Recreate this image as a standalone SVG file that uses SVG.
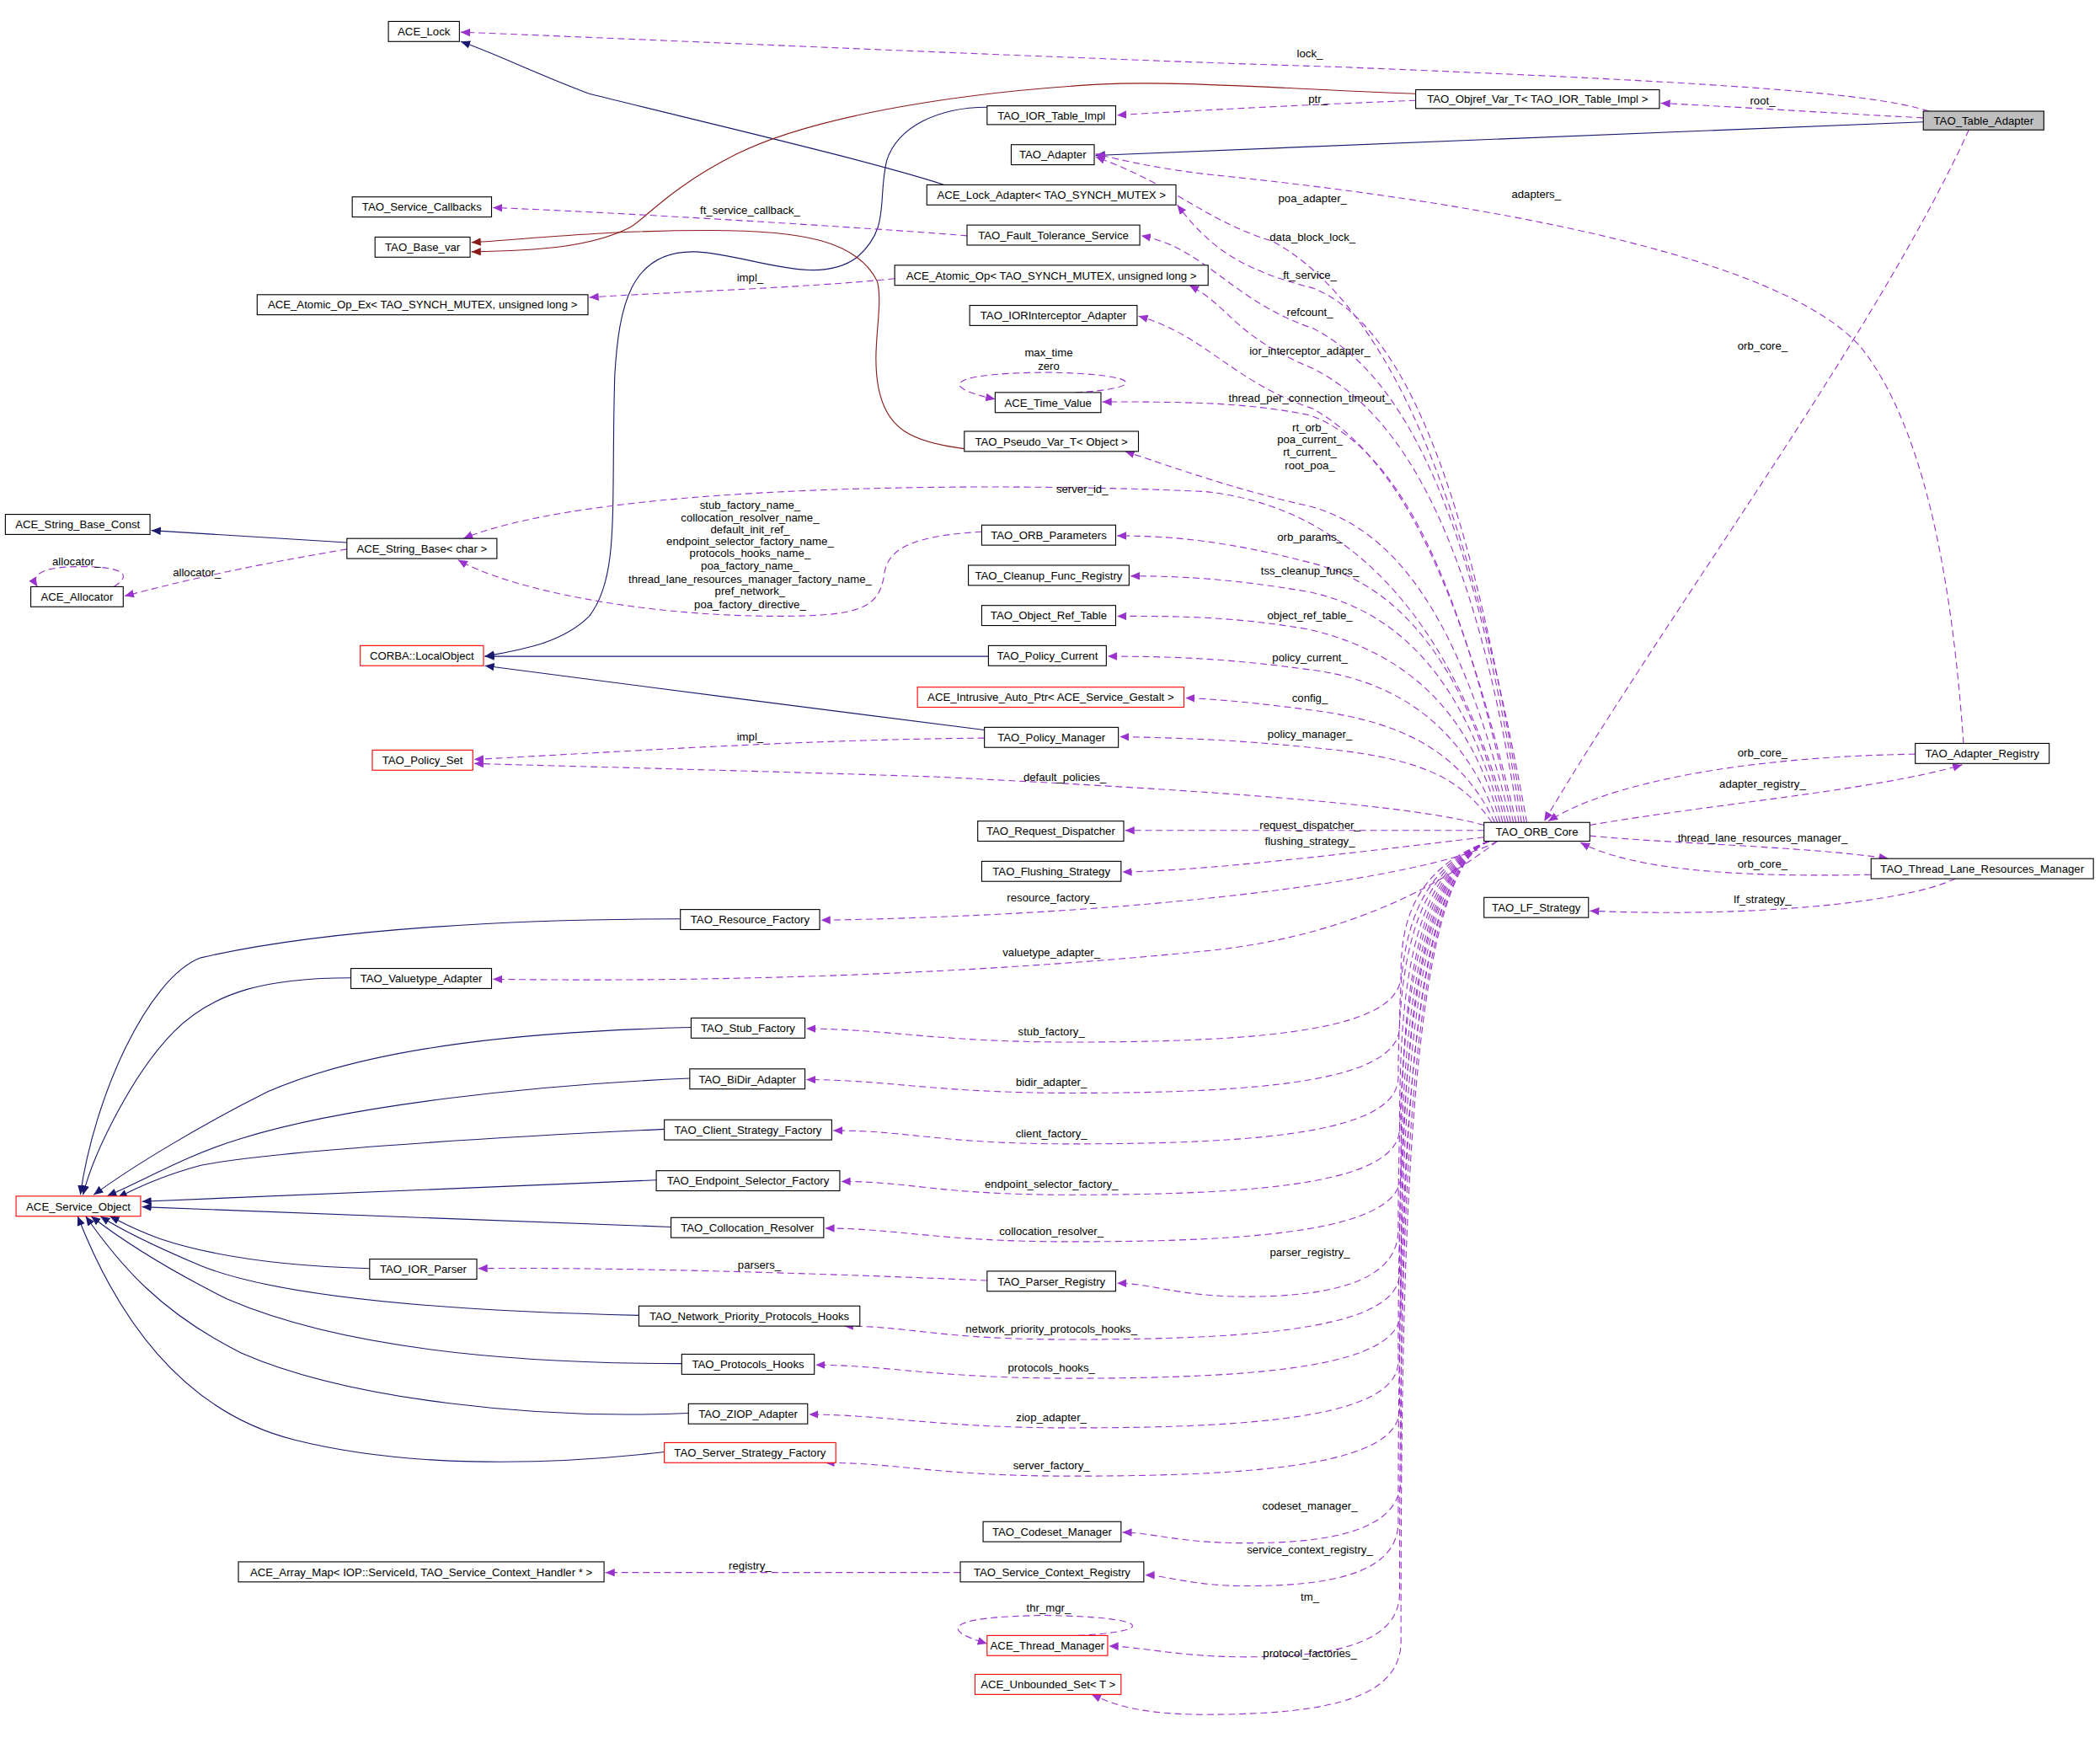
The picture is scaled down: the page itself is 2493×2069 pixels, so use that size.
<svg xmlns="http://www.w3.org/2000/svg" width="2493" height="2069" viewBox="0 0 2493 2069">
<style>
.n rect{fill:#fff;stroke:#000;stroke-width:0.7}
.n.r rect{stroke:#f00}
.n.g rect{fill:#bfbfbf}
text{font-family:"Liberation Sans",Arial,sans-serif;font-size:8.3px;fill:#000}
.n text{text-anchor:middle}
.l{text-anchor:middle}
.u{fill:none;stroke:#9a32cd;stroke-width:0.7;stroke-dasharray:5,3;marker-end:url(#mp)}
.b{fill:none;stroke:#191970;stroke-width:0.7;marker-end:url(#mb)}
.t{fill:none;stroke:#8b1a1a;stroke-width:0.7;marker-end:url(#mr)}
</style>
<defs>
<marker id="mp" markerUnits="userSpaceOnUse" markerWidth="8" markerHeight="8" refX="7" refY="3" orient="auto"><path d="M0,0L7,3L0,6z" fill="#9a32cd"/></marker>
<marker id="mb" markerUnits="userSpaceOnUse" markerWidth="8" markerHeight="8" refX="7" refY="3" orient="auto"><path d="M0,0L7,3L0,6z" fill="#191970"/></marker>
<marker id="mr" markerUnits="userSpaceOnUse" markerWidth="8" markerHeight="8" refX="7" refY="3" orient="auto"><path d="M0,0L7,3L0,6z" fill="#8b1a1a"/></marker>
</defs>
<rect width="2493" height="2069" fill="#fff"/>
<g transform="scale(1.59)">
<g id="edges">
<path class="b" d="M705,138C650,120 520,90 440,70C400,55 370,40 344,31"/>
<path class="b" d="M1436,91C1200,100 1000,108 818,116"/>
<path class="b" d="M737,80C700,80 670,95 662,120C655,150 665,170 640,192C610,215 560,190 520,188C470,186 462,230 459,280C456,380 463,430 440,460C420,480 390,485 362,490"/>
<path class="b" d="M738,490L362,490"/>
<path class="b" d="M735,545C650,535 450,508 362,497"/>
<path class="b" d="M259,405L113,396"/>
<path class="b" d="M508,686C400,686 250,692 150,715C110,730 70,820 60,892"/>
<path class="b" d="M262,730C200,730 160,740 130,770C100,800 70,860 62,892"/>
<path class="b" d="M516,767C400,770 280,780 200,815C150,840 100,870 70,892"/>
<path class="b" d="M515,805C400,810 260,825 180,850C140,862 110,880 80,893"/>
<path class="b" d="M496,843C350,850 200,860 150,870C120,878 100,888 88,894"/>
<path class="b" d="M490,881L106,897"/>
<path class="b" d="M501,916C400,912 200,905 106,901"/>
<path class="b" d="M276,947C200,945 150,935 120,925C100,918 90,912 82,908"/>
<path class="b" d="M477,982C300,978 200,965 150,945C110,928 90,918 75,908"/>
<path class="b" d="M509,1018C350,1018 240,1000 170,970C120,945 90,925 68,908"/>
<path class="b" d="M514,1055C400,1060 260,1045 180,1010C120,980 90,945 64,908"/>
<path class="b" d="M496,1084C400,1095 300,1095 220,1075C140,1055 90,990 58,908"/>
<path class="t" d="M1057,70C950,66 880,60 820,63C700,70 600,90 550,115C500,140 480,165 470,170C440,185 400,187 352,188"/>
<path class="t" d="M720,335C680,330 662,320 656,290C650,260 660,230 655,210C640,180 600,172 530,172C450,172 400,178 352,181"/>
<path class="u" d="M1440,83C1400,70 1300,62 1000,50C800,44 500,30 344,24"/>
<path class="u" d="M1436,88C1360,84 1300,80 1240,77"/>
<path class="u" d="M1057,75C980,78 900,82 834,86"/>
<path class="u" d="M1470,97C1400,250 1250,450 1153,613"/>
<path class="u" d="M1466,555C1460,470 1445,330 1390,260C1330,190 1100,150 900,130C860,125 840,120 818,115"/>
<path class="u" d="M1140,614C1110,450 1060,240 950,180C900,165 880,140 818,117"/>
<path class="u" d="M1138,614C1110,450 1070,250 980,215C920,200 900,180 879,153"/>
<path class="u" d="M1136,614C1110,450 1070,290 980,245C920,225 900,185 852,176"/>
<path class="u" d="M1134,614C1110,460 1070,320 980,275C920,250 920,230 888,213"/>
<path class="u" d="M1132,614C1100,480 1060,350 980,305C920,285 900,250 850,236"/>
<path class="u" d="M1130,614C1100,480 1060,340 978,310C930,300 880,300 823,300"/>
<path class="u" d="M1128,614C1100,500 1060,400 978,378C920,365 880,350 840,337"/>
<path class="u" d="M1126,614C1090,480 1020,380 900,367C750,360 450,360 346,402"/>
<path class="u" d="M1124,614C1100,520 1060,440 978,420C920,405 880,400 834,400"/>
<path class="u" d="M1122,614C1100,530 1060,460 978,442C920,432 880,430 844,430"/>
<path class="u" d="M1120,614C1100,540 1060,490 978,470C920,460 880,460 834,460"/>
<path class="u" d="M1118,614C1100,560 1060,510 978,500C920,492 880,490 827,490"/>
<path class="u" d="M1116,614C1095,570 1060,540 978,530C940,525 910,522 885,521"/>
<path class="u" d="M1114,614C1090,580 1060,565 978,558C920,552 880,551 836,550"/>
<path class="u" d="M1108,616C1050,600 900,590 700,580C550,575 420,572 354,570"/>
<path class="u" d="M1108,620L840,620"/>
<path class="u" d="M1108,625C1000,638 900,650 838,651"/>
<path class="u" d="M1118,628C1080,650 900,682 613,687"/>
<path class="u" d="M1118,628C1070,665 1000,700 900,710C700,730 500,733 368,731"/>
<path class="u" d="M1112,628C1050,650 1046,698 1046,728C1046,768 950,778 800,778C700,778 660,768 602,768"/>
<path class="u" d="M1112,628C1050,650 1045,717 1045,766C1045,806 950,816 800,816C700,816 660,806 602,806"/>
<path class="u" d="M1112,628C1050,650 1044,736 1044,804C1044,844 950,854 800,854C700,854 680,844 622,844"/>
<path class="u" d="M1112,628C1050,650 1045,755 1045,842C1045,882 950,892 800,892C700,892 680,882 628,882"/>
<path class="u" d="M1112,628C1050,650 1046,772 1046,877C1046,917 950,927 800,927C700,927 670,917 616,917"/>
<path class="u" d="M1112,628C1050,650 1044,793 1044,918C1044,958 990,968 930,968C880,968 860,958 834,958"/>
<path class="u" d="M1112,628C1050,650 1045,809 1045,950C1045,990 950,1000 800,1000C700,1000 680,990 630,990"/>
<path class="u" d="M737,956C600,950 450,946 357,947"/>
<path class="u" d="M1112,628C1050,650 1046,823 1046,979C1046,1019 950,1029 800,1029C700,1029 660,1019 609,1019"/>
<path class="u" d="M1112,628C1050,650 1044,842 1044,1016C1044,1056 950,1066 800,1066C700,1066 660,1056 604,1056"/>
<path class="u" d="M1112,628C1050,650 1045,860 1045,1052C1045,1092 950,1102 800,1102C700,1102 670,1092 616,1092"/>
<path class="u" d="M1112,628C1050,650 1046,886 1046,1104C1046,1144 990,1152 930,1152C880,1152 860,1144 838,1144"/>
<path class="u" d="M1112,628C1050,650 1044,902 1044,1136C1044,1176 990,1184 930,1184C890,1184 870,1176 855,1176"/>
<path class="u" d="M717,1174L452,1174"/>
<path class="u" d="M1112,628C1050,650 1045,928 1045,1189C1045,1229 990,1237 930,1237C880,1237 850,1229 828,1229"/>
<path class="u" d="M1112,628C1050,650 1046,946 1046,1225C1046,1265 1000,1280 900,1280C850,1280 830,1272 815,1265"/>
<path class="u" d="M805,1221C865,1218 860,1207 780,1206C700,1207 705,1218 737,1227"/>
<path class="u" d="M803,293C858,290 855,279 780,278C700,279 705,290 743,298"/>
<path class="u" d="M85,438C98,430 95,423 60,423C25,423 24,432 28,438"/>
<path class="u" d="M259,410C200,420 150,430 93,445"/>
<path class="u" d="M722,176C650,170 450,158 368,155"/>
<path class="u" d="M668,208C600,215 500,218 440,222"/>
<path class="u" d="M733,397C680,400 662,410 660,430C656,455 640,460 580,460C480,460 380,440 342,418"/>
<path class="u" d="M735,551C600,552 450,562 354,567"/>
<path class="u" d="M1187,616C1280,600 1400,590 1465,571"/>
<path class="u" d="M1430,563C1300,565 1200,585 1156,613"/>
<path class="u" d="M1187,624C1250,630 1350,632 1410,641"/>
<path class="u" d="M1397,653C1300,655 1220,650 1180,629"/>
<path class="u" d="M1460,656C1420,675 1300,685 1187,680"/>
</g>
<g id="labels">
<text class="l" x="978" y="43">lock_</text>
<text class="l" x="1316" y="78">root_</text>
<text class="l" x="984" y="77">ptr_</text>
<text class="l" x="1316" y="261">orb_core_</text>
<text class="l" x="1147" y="148">adapters_</text>
<text class="l" x="980" y="151">poa_adapter_</text>
<text class="l" x="980" y="180">data_block_lock_</text>
<text class="l" x="978" y="208">ft_service_</text>
<text class="l" x="978" y="236">refcount_</text>
<text class="l" x="978" y="265">ior_interceptor_adapter_</text>
<text class="l" x="978" y="300">thread_per_connection_timeout_</text>
<text class="l" x="978" y="322">rt_orb_</text>
<text class="l" x="978" y="331">poa_current_</text>
<text class="l" x="978" y="340">rt_current_</text>
<text class="l" x="978" y="350">root_poa_</text>
<text class="l" x="808" y="368">server_id_</text>
<text class="l" x="560" y="380">stub_factory_name_</text>
<text class="l" x="560" y="389">collocation_resolver_name_</text>
<text class="l" x="560" y="398">default_init_ref_</text>
<text class="l" x="560" y="407">endpoint_selector_factory_name_</text>
<text class="l" x="560" y="416">protocols_hooks_name_</text>
<text class="l" x="560" y="425">poa_factory_name_</text>
<text class="l" x="560" y="435">thread_lane_resources_manager_factory_name_</text>
<text class="l" x="560" y="444">pref_network_</text>
<text class="l" x="560" y="454">poa_factory_directive_</text>
<text class="l" x="978" y="404">orb_params_</text>
<text class="l" x="978" y="429">tss_cleanup_funcs_</text>
<text class="l" x="978" y="462">object_ref_table_</text>
<text class="l" x="978" y="494">policy_current_</text>
<text class="l" x="978" y="524">config_</text>
<text class="l" x="978" y="551">policy_manager_</text>
<text class="l" x="560" y="553">impl_</text>
<text class="l" x="795" y="583">default_policies_</text>
<text class="l" x="978" y="619">request_dispatcher_</text>
<text class="l" x="978" y="631">flushing_strategy_</text>
<text class="l" x="785" y="673">resource_factory_</text>
<text class="l" x="785" y="714">valuetype_adapter_</text>
<text class="l" x="785" y="773">stub_factory_</text>
<text class="l" x="785" y="811">bidir_adapter_</text>
<text class="l" x="785" y="849">client_factory_</text>
<text class="l" x="785" y="887">endpoint_selector_factory_</text>
<text class="l" x="785" y="922">collocation_resolver_</text>
<text class="l" x="978" y="938">parser_registry_</text>
<text class="l" x="567" y="947">parsers_</text>
<text class="l" x="785" y="995">network_priority_protocols_hooks_</text>
<text class="l" x="785" y="1024">protocols_hooks_</text>
<text class="l" x="785" y="1061">ziop_adapter_</text>
<text class="l" x="785" y="1097">server_factory_</text>
<text class="l" x="978" y="1127">codeset_manager_</text>
<text class="l" x="978" y="1160">service_context_registry_</text>
<text class="l" x="560" y="1172">registry_</text>
<text class="l" x="978" y="1195">tm_</text>
<text class="l" x="978" y="1237">protocol_factories_</text>
<text class="l" x="783" y="1203">thr_mgr_</text>
<text class="l" x="783" y="266">max_time</text>
<text class="l" x="783" y="276">zero</text>
<text class="l" x="57" y="422">allocator_</text>
<text class="l" x="147" y="430">allocator_</text>
<text class="l" x="560" y="160">ft_service_callback_</text>
<text class="l" x="560" y="210">impl_</text>
<text class="l" x="1316" y="565">orb_core_</text>
<text class="l" x="1316" y="588">adapter_registry_</text>
<text class="l" x="1316" y="628">thread_lane_resources_manager_</text>
<text class="l" x="1316" y="648">orb_core_</text>
<text class="l" x="1316" y="674">lf_strategy_</text>
</g>
<g id="ACE_Lock" class="n"><rect x="290" y="16" width="53" height="15"/><text x="316.5" y="26.5">ACE_Lock</text></g>
<g id="TAO_IOR_Table_Impl" class="n"><rect x="737" y="79" width="96" height="14"/><text x="785" y="89">TAO_IOR_Table_Impl</text></g>
<g id="TAO_Objref_Var_T" class="n"><rect x="1057" y="67" width="182" height="14"/><text x="1148" y="77">TAO_Objref_Var_T&lt; TAO_IOR_Table_Impl &gt;</text></g>
<g id="TAO_Table_Adapter" class="n g"><rect x="1436" y="83" width="90" height="14"/><text x="1481" y="93">TAO_Table_Adapter</text></g>
<g id="TAO_Adapter" class="n"><rect x="755" y="108" width="62" height="15"/><text x="786" y="118.5">TAO_Adapter</text></g>
<g id="ACE_Lock_Adapter" class="n"><rect x="692" y="138" width="186" height="15"/><text x="785" y="148.5">ACE_Lock_Adapter&lt; TAO_SYNCH_MUTEX &gt;</text></g>
<g id="TAO_Service_Callbacks" class="n"><rect x="263" y="147" width="104" height="15"/><text x="315" y="157.5">TAO_Service_Callbacks</text></g>
<g id="TAO_Base_var" class="n"><rect x="280" y="177" width="71" height="15"/><text x="315.5" y="187.5">TAO_Base_var</text></g>
<g id="TAO_Fault_Tolerance_Service" class="n"><rect x="722" y="168" width="129" height="15"/><text x="786.5" y="178.5">TAO_Fault_Tolerance_Service</text></g>
<g id="ACE_Atomic_Op" class="n"><rect x="668" y="198" width="234" height="15"/><text x="785" y="208.5">ACE_Atomic_Op&lt; TAO_SYNCH_MUTEX, unsigned long &gt;</text></g>
<g id="ACE_Atomic_Op_Ex" class="n"><rect x="192" y="220" width="247" height="15"/><text x="315.5" y="230.5">ACE_Atomic_Op_Ex&lt; TAO_SYNCH_MUTEX, unsigned long &gt;</text></g>
<g id="TAO_IORInterceptor_Adapter" class="n"><rect x="724" y="228" width="125" height="15"/><text x="786.5" y="238.5">TAO_IORInterceptor_Adapter</text></g>
<g id="ACE_Time_Value" class="n"><rect x="743" y="293" width="79" height="15"/><text x="782.5" y="303.5">ACE_Time_Value</text></g>
<g id="TAO_Pseudo_Var_T" class="n"><rect x="720" y="322" width="130" height="15"/><text x="785" y="332.5">TAO_Pseudo_Var_T&lt; Object &gt;</text></g>
<g id="ACE_String_Base_Const" class="n"><rect x="4" y="384" width="108" height="15"/><text x="58" y="394.5">ACE_String_Base_Const</text></g>
<g id="ACE_String_Base" class="n"><rect x="259" y="402" width="112" height="15"/><text x="315" y="412.5">ACE_String_Base&lt; char &gt;</text></g>
<g id="ACE_Allocator" class="n"><rect x="23" y="438" width="69" height="15"/><text x="57.5" y="448.5">ACE_Allocator</text></g>
<g id="TAO_ORB_Parameters" class="n"><rect x="733" y="392" width="100" height="15"/><text x="783" y="402.5">TAO_ORB_Parameters</text></g>
<g id="TAO_Cleanup_Func_Registry" class="n"><rect x="723" y="422" width="120" height="15"/><text x="783" y="432.5">TAO_Cleanup_Func_Registry</text></g>
<g id="TAO_Object_Ref_Table" class="n"><rect x="733" y="452" width="100" height="15"/><text x="783" y="462.5">TAO_Object_Ref_Table</text></g>
<g id="CORBA_LocalObject" class="n r"><rect x="269" y="482" width="92" height="15"/><text x="315" y="492.5">CORBA::LocalObject</text></g>
<g id="TAO_Policy_Current" class="n"><rect x="738" y="482" width="88" height="15"/><text x="782" y="492.5">TAO_Policy_Current</text></g>
<g id="ACE_Intrusive_Auto_Ptr" class="n r"><rect x="685" y="513" width="199" height="15"/><text x="784.5" y="523.5">ACE_Intrusive_Auto_Ptr&lt; ACE_Service_Gestalt &gt;</text></g>
<g id="TAO_Policy_Manager" class="n"><rect x="735" y="543" width="100" height="15"/><text x="785" y="553.5">TAO_Policy_Manager</text></g>
<g id="TAO_Adapter_Registry" class="n"><rect x="1430" y="555" width="100" height="15"/><text x="1480" y="565.5">TAO_Adapter_Registry</text></g>
<g id="TAO_Policy_Set" class="n r"><rect x="278" y="560" width="75" height="15"/><text x="315.5" y="570.5">TAO_Policy_Set</text></g>
<g id="TAO_ORB_Core" class="n"><rect x="1108" y="614" width="79" height="14"/><text x="1147.5" y="624">TAO_ORB_Core</text></g>
<g id="TAO_Request_Dispatcher" class="n"><rect x="730" y="613" width="109" height="15"/><text x="784.5" y="623.5">TAO_Request_Dispatcher</text></g>
<g id="TAO_Thread_Lane_Resources_Manager" class="n"><rect x="1397" y="641" width="166" height="15"/><text x="1480" y="651.5">TAO_Thread_Lane_Resources_Manager</text></g>
<g id="TAO_Flushing_Strategy" class="n"><rect x="733" y="643" width="104" height="15"/><text x="785" y="653.5">TAO_Flushing_Strategy</text></g>
<g id="TAO_LF_Strategy" class="n"><rect x="1108" y="670" width="78" height="15"/><text x="1147" y="680.5">TAO_LF_Strategy</text></g>
<g id="TAO_Resource_Factory" class="n"><rect x="508" y="679" width="104" height="15"/><text x="560" y="689.5">TAO_Resource_Factory</text></g>
<g id="TAO_Valuetype_Adapter" class="n"><rect x="262" y="723" width="105" height="15"/><text x="314.5" y="733.5">TAO_Valuetype_Adapter</text></g>
<g id="TAO_Stub_Factory" class="n"><rect x="516" y="760" width="85" height="15"/><text x="558.5" y="770.5">TAO_Stub_Factory</text></g>
<g id="TAO_BiDir_Adapter" class="n"><rect x="515" y="798" width="86" height="15"/><text x="558" y="808.5">TAO_BiDir_Adapter</text></g>
<g id="TAO_Client_Strategy_Factory" class="n"><rect x="496" y="836" width="125" height="15"/><text x="558.5" y="846.5">TAO_Client_Strategy_Factory</text></g>
<g id="TAO_Endpoint_Selector_Factory" class="n"><rect x="490" y="874" width="137" height="15"/><text x="558.5" y="884.5">TAO_Endpoint_Selector_Factory</text></g>
<g id="ACE_Service_Object" class="n r"><rect x="12" y="893" width="93" height="15"/><text x="58.5" y="903.5">ACE_Service_Object</text></g>
<g id="TAO_Collocation_Resolver" class="n"><rect x="501" y="909" width="114" height="15"/><text x="558" y="919.5">TAO_Collocation_Resolver</text></g>
<g id="TAO_IOR_Parser" class="n"><rect x="276" y="940" width="80" height="15"/><text x="316" y="950.5">TAO_IOR_Parser</text></g>
<g id="TAO_Parser_Registry" class="n"><rect x="737" y="949" width="96" height="15"/><text x="785" y="959.5">TAO_Parser_Registry</text></g>
<g id="TAO_Network_Priority_Protocols_Hooks" class="n"><rect x="477" y="975" width="165" height="15"/><text x="559.5" y="985.5">TAO_Network_Priority_Protocols_Hooks</text></g>
<g id="TAO_Protocols_Hooks" class="n"><rect x="509" y="1011" width="99" height="15"/><text x="558.5" y="1021.5">TAO_Protocols_Hooks</text></g>
<g id="TAO_ZIOP_Adapter" class="n"><rect x="514" y="1048" width="89" height="15"/><text x="558.5" y="1058.5">TAO_ZIOP_Adapter</text></g>
<g id="TAO_Server_Strategy_Factory" class="n r"><rect x="496" y="1077" width="128" height="15"/><text x="560" y="1087.5">TAO_Server_Strategy_Factory</text></g>
<g id="TAO_Codeset_Manager" class="n"><rect x="734" y="1136" width="103" height="15"/><text x="785.5" y="1146.5">TAO_Codeset_Manager</text></g>
<g id="ACE_Array_Map" class="n"><rect x="178" y="1166" width="273" height="15"/><text x="314.5" y="1176.5">ACE_Array_Map&lt; IOP::ServiceId, TAO_Service_Context_Handler * &gt;</text></g>
<g id="TAO_Service_Context_Registry" class="n"><rect x="717" y="1166" width="137" height="15"/><text x="785.5" y="1176.5">TAO_Service_Context_Registry</text></g>
<g id="ACE_Thread_Manager" class="n r"><rect x="737" y="1221" width="90" height="15"/><text x="782" y="1231.5">ACE_Thread_Manager</text></g>
<g id="ACE_Unbounded_Set" class="n r"><rect x="728" y="1250" width="109" height="15"/><text x="782.5" y="1260.5">ACE_Unbounded_Set&lt; T &gt;</text></g>
</g>
</svg>
